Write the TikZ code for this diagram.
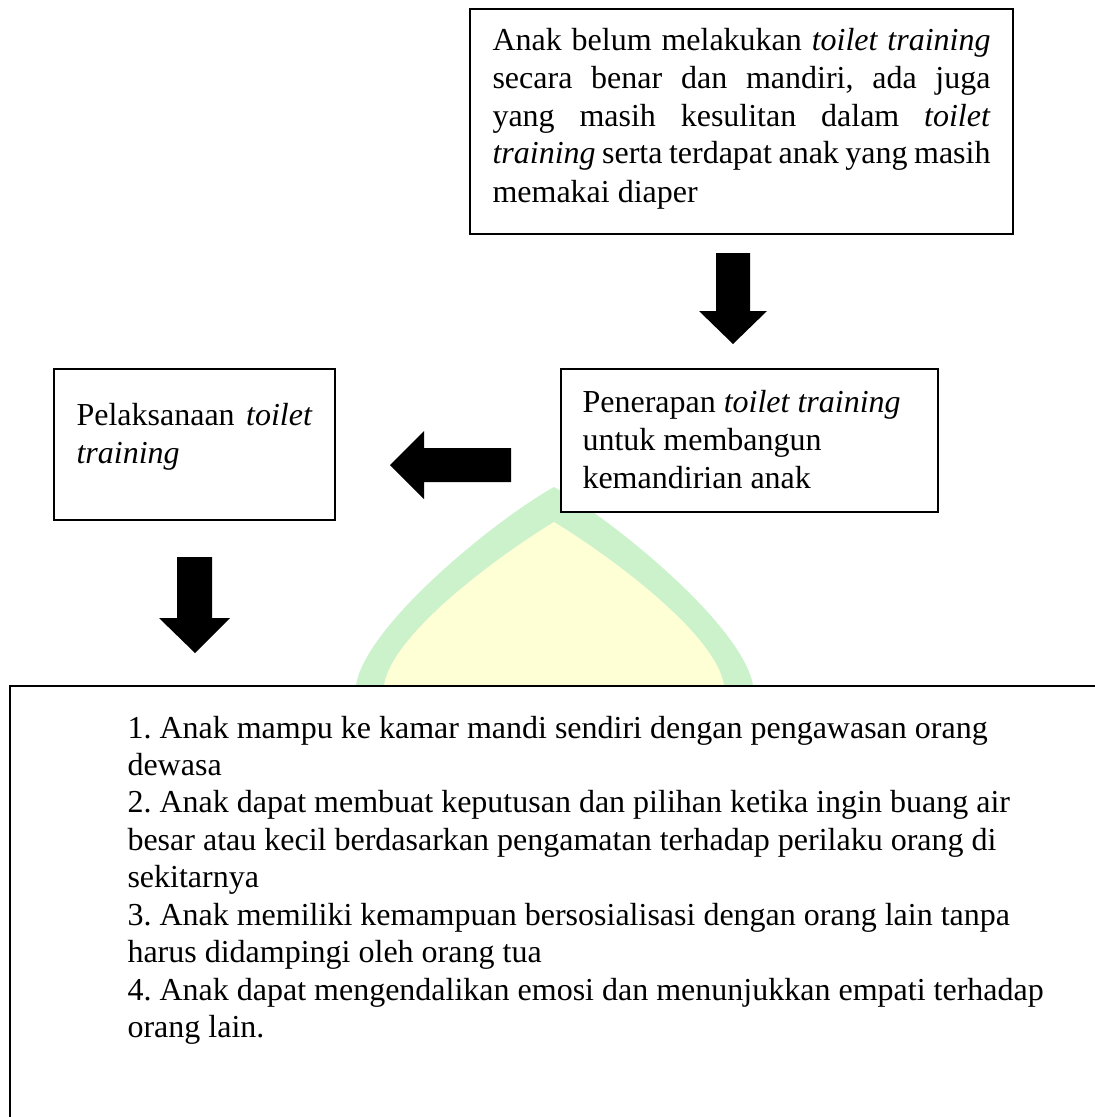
\documentclass[tikz,border=0pt]{standalone}
\usepackage{fontspec}
\setmainfont{Liberation Serif}
\frenchspacing
\definecolor{wmgreen}{RGB}{204,242,204}
\definecolor{wmyellow}{RGB}{255,255,214}
\begin{document}
\begin{tikzpicture}[x=0.375pt,y=-0.375pt,
  box/.style={draw=black,line width=0.9pt,fill=white,inner sep=0pt,rectangle},
  blockarrow/.style={fill=black,draw=none},
  txt/.style={inner sep=0pt,font=\fontsize{12pt}{14.25pt}\selectfont}]
\useasboundingbox (0,0) rectangle (1095,1117);
\clip (0,0) rectangle (1095,1117);
\fill[white] (0,0) rectangle (1095,1117);
% watermark
\fill[wmgreen] (356,700) -- (356,685) .. controls (366,625) and (495,520) .. (554,487)
  .. controls (613,520) and (742,625) .. (753,685) -- (753,700) -- cycle;
\fill[wmyellow] (384,700) -- (384,685) .. controls (393,632) and (503,553) .. (554,522)
  .. controls (605,553) and (715,632) .. (724,685) -- (724,700) -- cycle;
% boxes
\node[box,minimum width={543*0.375pt},minimum height={225*0.375pt}] (problem) at (741.5,121.5) {};
\node[box,minimum width={377*0.375pt},minimum height={143*0.375pt}] (apply) at (749.5,440.5) {};
\node[box,minimum width={281*0.375pt},minimum height={151*0.375pt}] (exec) at (194.5,444.5) {};
\node[box,minimum width={1200*0.375pt},minimum height={600*0.375pt},anchor=north west] (outcome) at (9,685) {};
% texts
\node[txt,anchor=base west] (problemtext) at (492,50) {\parbox[t]{186.75pt}{\fontsize{12pt}{14.25pt}\selectfont
\hbox to\hsize{Anak belum melakukan \textit{toilet training}}
\hbox to\hsize{secara benar dan mandiri, ada juga}
\hbox to\hsize{yang masih kesulitan dalam \textit{toilet}}
\hbox to\hsize{\textit{training} serta terdapat anak yang masih}
\hbox{memakai diaper}}};
\node[txt,anchor=base west] (applytext) at (582,412) {\parbox[t]{130pt}{\fontsize{12pt}{14.4pt}\selectfont
\hbox{Penerapan \textit{toilet training}}
\hbox{untuk membangun}
\hbox{kemandirian anak}}};
\node[txt,anchor=base west] (exectext) at (76,425) {\parbox[t]{88.5pt}{\fontsize{12pt}{14.25pt}\selectfont
\hbox to\hsize{Pelaksanaan \textit{toilet}}
\hbox{\textit{training}}}};
\node[txt,anchor=base west] (outcometext) at (127,738) {\parbox[t]{340pt}{\fontsize{12pt}{14.06pt}\selectfont
\hbox{1. Anak mampu ke kamar mandi sendiri dengan pengawasan orang}
\hbox{dewasa}
\hbox{2. Anak dapat membuat keputusan dan pilihan ketika ingin buang air}
\hbox{besar atau kecil berdasarkan pengamatan terhadap perilaku orang di}
\hbox{sekitarnya}
\hbox{3. Anak memiliki kemampuan bersosialisasi dengan orang lain tanpa}
\hbox{harus didampingi oleh orang tua}
\hbox{4. Anak dapat mengendalikan emosi dan menunjukkan empati terhadap}
\hbox{orang lain.}}};
% block arrows
\fill[blockarrow] (716,253) -- (750,253) -- (750,311) -- (767,311) -- (733,344) -- (699,311) -- (716,311) -- cycle;
\fill[blockarrow] (511,448) -- (511,482) -- (424,482) -- (424,499) -- (390,465) -- (424,431) -- (424,448) -- cycle;
\fill[blockarrow] (177,557) -- (212,557) -- (212,618) -- (230,618) -- (195,653) -- (159,618) -- (177,618) -- cycle;
\end{tikzpicture}
\end{document}
